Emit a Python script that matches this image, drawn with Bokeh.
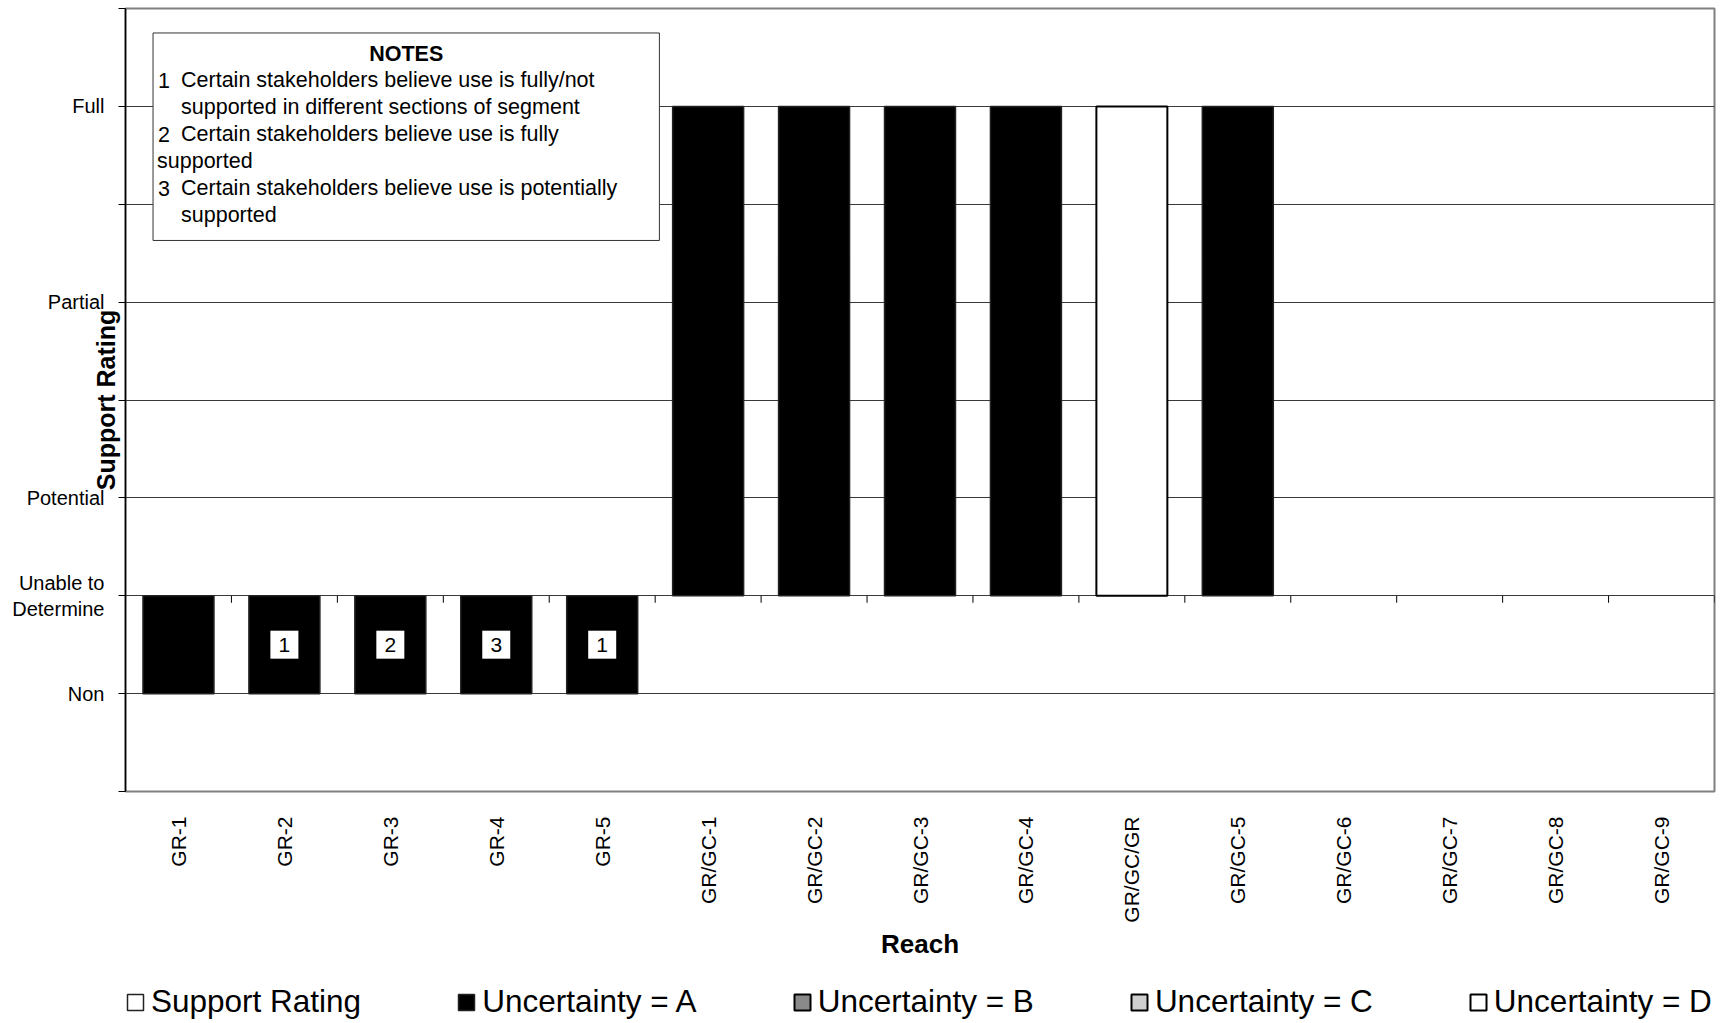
import math
from bokeh.plotting import figure
from bokeh.layouts import column
from bokeh.models import (ColumnDataSource, FactorRange, Range1d, FixedTicker,
                          BoxAnnotation, Label, Legend, LegendItem)
from bokeh.transform import dodge
from bokeh.core.properties import value
from bokeh.embed import file_html
from bokeh.resources import INLINE

# ---------------- data ----------------
reaches = ["GR-1", "GR-2", "GR-3", "GR-4", "GR-5",
           "GR/GC-1", "GR/GC-2", "GR/GC-3", "GR/GC-4", "GR/GC/GR",
           "GR/GC-5", "GR/GC-6", "GR/GC-7", "GR/GC-8", "GR/GC-9"]
support_rating = [1, 1, 1, 1, 1, 7, 7, 7, 7, 7, 7, None, None, None, None]
uncertainty = ["A", "A", "A", "A", "A", "A", "A", "A", "A", "D", "A",
               None, None, None, None]

rating_ticks = [0, 1, 2, 3, 4, 5, 6, 7, 8]
rating_labels = ["", "Non", "Unable to\nDetermine", "Potential", "",
                 "Partial", "", "Full", ""]
axis_cross = 2  # category axis crosses at "Unable to Determine"

note_reaches = ["GR-2", "GR-3", "GR-4", "GR-5"]
note_numbers = ["1", "2", "3", "1"]

notes_title = "NOTES"
# (number, text, indent style)
notes_lines = [
    ("1", "Certain stakeholders believe use is fully/not", "num"),
    ("", "supported in different sections of segment", "hang"),
    ("2", "Certain stakeholders believe use is fully", "num"),
    ("", "supported", "flush"),
    ("3", "Certain stakeholders believe use is potentially", "num"),
    ("", "supported", "hang"),
]

legend_labels = ["Support Rating", "Uncertainty = A", "Uncertainty = B",
                 "Uncertainty = C", "Uncertainty = D"]
legend_levels = [None, "A", "B", "C", "D"]

# ---------------- styles ----------------
FONT = "Liberation Sans"
level_style = {
    None: dict(fill_color="white", line_color="#222222", line_width=1.5),
    "A": dict(fill_color="black", line_color="#222222", line_width=1.5),
    "B": dict(fill_color="#8a8a8a", line_color="black", line_width=2),
    "C": dict(fill_color="#cfcfcf", line_color="black", line_width=2),
    "D": dict(fill_color="white", line_color="black", line_width=2),
}
BAR_W = 0.67
NAN = float("nan")

p = figure(width=1720, height=968,
           x_range=FactorRange(*reaches), y_range=Range1d(0, 8),
           output_backend="svg", toolbar_location=None,
           min_border_left=125, min_border_right=6, min_border_top=8,
           min_border_bottom=177)
p.background_fill_color = "white"
p.border_fill_color = "white"
p.outline_line_color = "#808080"
p.outline_line_width = 2

# grid
p.xgrid.grid_line_color = None
p.ygrid.ticker = FixedTicker(ticks=rating_ticks)
p.ygrid.grid_line_color = "#3a3a3a"
p.ygrid.grid_line_width = 1

# y axis
p.yaxis.ticker = FixedTicker(ticks=rating_ticks)
p.yaxis.major_label_overrides = {t: l for t, l in zip(rating_ticks, rating_labels)}
p.yaxis.minor_tick_line_color = None
p.yaxis.major_tick_out = 7
p.yaxis.major_tick_in = 0
p.yaxis.major_tick_line_color = "black"
p.yaxis.axis_line_color = "black"
p.yaxis.axis_line_width = 1.5
p.yaxis.major_label_standoff = 14
p.yaxis.major_label_text_font = FONT
p.yaxis.major_label_text_font_size = "20px"
p.yaxis.major_label_text_color = "black"
p.yaxis.axis_label = "Support Rating"
p.yaxis.axis_label_text_font = FONT
p.yaxis.axis_label_text_font_style = "bold"
p.yaxis.axis_label_text_font_size = "25px"
p.yaxis.axis_label_text_color = "black"
p.yaxis.axis_label_standoff = -111

# x axis
p.xaxis.major_tick_line_color = None
p.xaxis.axis_line_color = None
p.xaxis.major_label_orientation = math.pi / 2
p.xaxis.major_label_standoff = 19
p.xaxis.major_label_text_font = FONT
p.xaxis.major_label_text_font_size = "21px"
p.xaxis.major_label_text_color = "black"
p.xaxis.axis_label = "Reach"
p.xaxis.axis_label_text_font = FONT
p.xaxis.axis_label_text_font_style = "bold"
p.xaxis.axis_label_text_font_size = "26px"
p.xaxis.axis_label_text_color = "black"
p.xaxis.axis_label_standoff = 3

# category-axis tick marks at the crossing line
tick_src = ColumnDataSource(dict(x=reaches))
p.ray(x=dodge("x", 0.5, range=p.x_range), y=axis_cross, length=7,
      length_units="screen", angle=-math.pi / 2, line_color="black",
      line_width=1, source=tick_src)

# bars coloured by uncertainty, drawn from the axis crossing
for lvl in ["A", "B", "C", "D"]:
    xs = [r for r, s, u in zip(reaches, support_rating, uncertainty)
          if u == lvl and s is not None]
    tops = [s for r, s, u in zip(reaches, support_rating, uncertainty)
            if u == lvl and s is not None]
    if xs:
        src = ColumnDataSource(dict(x=xs, top=tops))
        p.vbar(x="x", top="top", bottom=axis_cross, width=BAR_W,
               source=src, **level_style[lvl])

# note markers inside bars
rating_of = dict(zip(reaches, support_rating))
note_src = ColumnDataSource(dict(
    x=note_reaches,
    y=[(rating_of[r] + axis_cross) / 2 for r in note_reaches],
    t=note_numbers))
p.rect(x="x", y="y", width=28, height=28, width_units="screen",
       height_units="screen", fill_color="white", line_color=None,
       source=note_src)
p.text(x="x", y="y", text="t", text_align="center", text_baseline="middle",
       text_font=value(FONT), text_font_size="21px", text_color="black",
       source=note_src)

# notes box
nb_left, nb_right, nb_top, nb_bottom = 0.26, 5.04, 7.75, 5.63
p.add_layout(BoxAnnotation(left=nb_left, right=nb_right, top=nb_top,
                           bottom=nb_bottom, fill_color="white", fill_alpha=1,
                           line_color="#333333", line_alpha=1, line_width=1,
                           level="annotation"))
line_step = 0.275
first_y = nb_top - 0.21
NOTE_FS = "21.5px"
p.add_layout(Label(x=(nb_left + nb_right) / 2, y=first_y, text=notes_title,
                   text_align="center", text_baseline="middle",
                   text_font=FONT, text_font_style="bold",
                   text_font_size=NOTE_FS, text_color="black"))
text_offset = {"num": 28, "hang": 28, "flush": 4}
for k, (num, txt, style) in enumerate(notes_lines, start=1):
    yk = first_y - k * line_step
    if num:
        p.add_layout(Label(x=nb_left, y=yk, x_offset=5, text=num,
                           text_align="left", text_baseline="middle",
                           text_font=FONT, text_font_size=NOTE_FS,
                           text_color="black"))
    p.add_layout(Label(x=nb_left, y=yk, x_offset=text_offset[style], text=txt,
                       text_align="left", text_baseline="middle",
                       text_font=FONT, text_font_size=NOTE_FS,
                       text_color="black"))

# ---------------- legend strip ----------------
lp = figure(width=1720, height=52, x_range=Range1d(0, 1), y_range=Range1d(0, 1),
            output_backend="svg", toolbar_location=None,
            x_axis_type=None, y_axis_type=None,
            min_border=0, min_border_left=0, min_border_right=0,
            min_border_top=0, min_border_bottom=0)
lp.outline_line_color = None
lp.xgrid.grid_line_color = None
lp.ygrid.grid_line_color = None
lp.background_fill_color = "white"
lp.border_fill_color = "white"

items = []
for lab, lvl in zip(legend_labels, legend_levels):
    r = lp.vbar(x=[NAN], top=[NAN], bottom=[NAN], width=0.1, **level_style[lvl])
    items.append(LegendItem(label=lab, renderers=[r]))
legend = Legend(items=items, orientation="horizontal", location=(0, 0))
legend.label_text_font = FONT
legend.label_text_font_size = "31.5px"
legend.label_text_color = "black"
legend.glyph_width = 20
legend.glyph_height = 20
legend.label_standoff = 6
legend.spacing = 95
legend.padding = 0
legend.margin = 0
legend.border_line_color = None
legend.background_fill_alpha = 0
lp.add_layout(legend)

open("out.html", "w").write(file_html(column(p, lp), INLINE))
